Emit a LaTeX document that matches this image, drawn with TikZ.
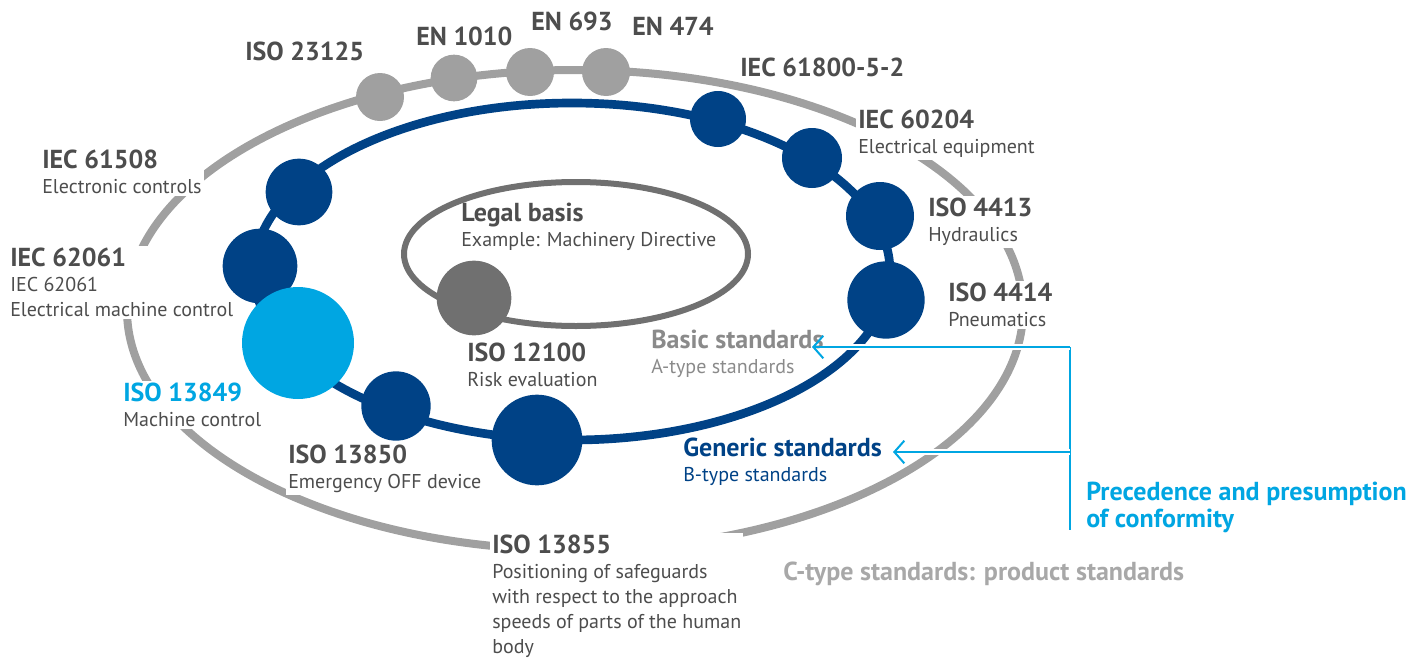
\documentclass[tikz,border=0pt]{standalone}
\usepackage{fontspec}
\setmainfont{PT Sans}
\usetikzlibrary{arrows.meta,positioning}
\definecolor{stdblue}{RGB}{0,66,134}
\definecolor{stdcyan}{RGB}{0,166,226}
\definecolor{ringgray}{RGB}{160,160,160}
\definecolor{coregray}{RGB}{112,112,112}
\definecolor{txtgray}{RGB}{77,77,77}
\definecolor{agray}{RGB}{138,138,138}
\definecolor{cgray}{RGB}{168,168,168}
\newcommand{\hd}[1]{{\bfseries\fontsize{19.5}{18.75}\selectfont #1}}
\tikzset{
    x=0.75pt, y=-0.75pt,
    lbl/.style={anchor=north west, align=left, fill=white, inner sep=1.5pt, text=txtgray, font=\fontsize{15}{18.6}\selectfont},
    ring/.style={draw=#1, line width=6pt},
    dot/.style={circle, inner sep=0pt, minimum size=#1},
    prec/.style={draw=stdcyan, line width=1.5pt},
    arr/.style={prec, -{Straight Barb[length=7.5pt,width=17pt]}, preaction={draw=white, line width=5pt, -, shorten >=12pt}}
}

\begin{document}
\begin{tikzpicture}
    \tikzstyle{gr}=[dot, fill=ringgray]
    \tikzstyle{bl}=[dot, fill=stdblue]
    \tikzstyle{cy}=[dot, fill=stdcyan]
    \tikzstyle{dk}=[dot, fill=coregray]

    \useasboundingbox (0,0) rectangle (1406,657);

    \draw[ring=ringgray] (575,310) ellipse [x radius=448, y radius=240];
    \draw[ring=stdblue, line width=6.5pt] (572,271.5) ellipse [x radius=318, y radius=168.5];
    \draw[ring=coregray, line width=4.5pt] (576,254) ellipse [x radius=172, y radius=72];

    \node[lbl] (t23125) at (243,40) {\hd{ISO 23125}};
    \node[lbl] (t1010) at (414,25) {\hd{EN 1010}};
    \node[lbl] (t693) at (529,10) {\hd{EN 693}};
    \node[lbl] (t474) at (630,15) {\hd{EN 474}};
    \node[lbl] (t61800) at (738,56) {\hd{IEC 61800-5-2}};
    \node[lbl] (t60204) at (856,108) {\hd{IEC 60204}\\Electrical equipment};
    \node[lbl] (t4413) at (926,196) {\hd{ISO 4413}\\Hydraulics};
    \node[lbl] (t4414) at (946,281) {\hd{ISO 4414}\\Pneumatics};
    \node[lbl] (t61508) at (40,148) {\hd{IEC 61508}\\Electronic controls};
    \node[lbl] (t62061) at (8,246) {\hd{IEC 62061}\\IEC 62061\\Electrical machine control};
    \node[lbl] (t13849) at (121,381) {\textcolor{stdcyan}{\hd{ISO 13849}}\\Machine control};
    \node[lbl] (t13850) at (286,443) {\hd{ISO 13850}\\Emergency OFF device};
    \node[lbl] (t13855) at (490,533) {\hd{ISO 13855}\\Positioning of safeguards\\with respect to the approach\\speeds of parts of the human\\body};
    \node[lbl, fill=none] (legal) at (459,201) {\hd{Legal basis}\\Example: Machinery Directive};
    \node[lbl] (t12100) at (465,341) {\hd{ISO 12100}\\Risk evaluation};
    \node[lbl, text=agray, fill=none] (basic) at (649,328) {\hd{Basic standards}\\A-type standards};
    \node[lbl, text=stdblue, fill=none] (generic) at (681,436) {\hd{Generic standards}\\B-type standards};
    \node[lbl, text=stdcyan, font=\bfseries\fontsize{19.5}{20.25}\selectfont] (precedence) at (1084,480) {Precedence and presumption\\of conformity};
    \node[lbl, text=cgray, fill=none] (ctype) at (781,560) {\hd{C-type standards: product standards}};

    \node[gr, minimum size=36pt] (c23125) at (380,97) {};
    \node[gr, minimum size=35pt] (c1010) at (454,78) {};
    \node[gr, minimum size=36pt] (c693) at (530,72) {};
    \node[gr, minimum size=36pt] (c474) at (606,72) {};
    \node[bl, minimum size=42pt] (c61800) at (718,119) {};
    \node[bl, minimum size=45pt] (c60204) at (812,158) {};
    \node[bl, minimum size=51pt] (c4413) at (880,216) {};
    \node[bl, minimum size=58pt] (c4414) at (886,300) {};
    \node[bl, minimum size=50pt] (c61508) at (299,192) {};
    \node[bl, minimum size=56pt] (c62061) at (260,266) {};
    \node[cy, minimum size=84pt] (c13849) at (298,343) {};
    \node[bl, minimum size=52pt] (c13850) at (396,406) {};
    \node[bl, minimum size=68pt] (cgeneric) at (537,440) {};
    \node[dk, minimum size=56pt] (c12100) at (474,298) {};

    \coordinate (foot) at (1070,530);
    \coordinate (ja) at (1070,347);
    \coordinate (jb) at (1070,452);
    \coordinate (tipa) at (812,347);
    \coordinate (tipb) at (893,452);
    \draw[prec] (ja) -- (foot);
    \draw[arr] (ja) -- (tipa);
    \draw[arr] (jb) -- (tipb);
\end{tikzpicture}
\end{document}
